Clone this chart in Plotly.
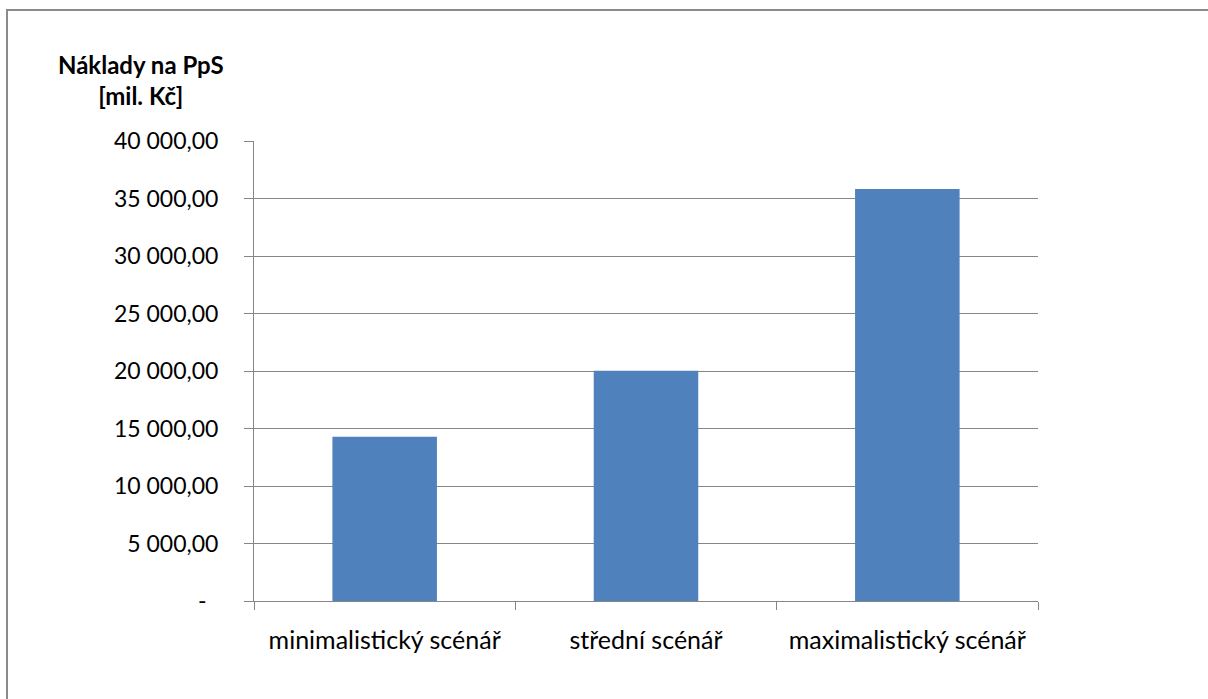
import plotly.graph_objects as go

categories = ["minimalistický scénář", "střední scénář", "maximalistický scénář"]
values = [14290, 20020, 35830]
tick_vals = [0, 5000, 10000, 15000, 20000, 25000, 30000, 35000, 40000]
tick_text = ["-" + "\u00a0" * 2, "5 000,00", "10 000,00", "15 000,00", "20 000,00",
             "25 000,00", "30 000,00", "35 000,00", "40 000,00"]
y_title = "<b>Náklady na PpS<br>[mil. Kč]</b>"

W, H = 1208, 699
L, R, T, B = 254, 1038, 141, 601
pw, ph = R - L, B - T

def px(x):
    return (x - L) / pw

def py(y):
    return (B - y) / ph

FONT = "Lato"
GRID = "#868686"

fig = go.Figure(go.Bar(x=categories, y=values, marker=dict(color="#4F81BD", line=dict(width=0)),
                       hoverinfo="skip"))

fig.update_layout(
    width=W, height=H,
    margin=dict(l=L, r=W - R, t=T, b=H - B),
    paper_bgcolor="white", plot_bgcolor="white",
    bargap=0.6,
    showlegend=False,
    font=dict(family=FONT, size=22, color="black"),
)
fig.update_xaxes(
    type="category", tickson="boundaries", ticks="outside", ticklen=8, tickcolor=GRID,
    showline=True, linecolor=GRID, linewidth=1, showgrid=False,
    tickfont=dict(family=FONT, size=25, color="black"), ticklabelstandoff=17,
)
fig.update_yaxes(
    range=[0, 40000], tickvals=tick_vals, ticktext=tick_text,
    ticks="outside", ticklen=9, tickcolor=GRID,
    showline=True, linecolor=GRID, linewidth=1,
    showgrid=True, gridcolor=GRID, gridwidth=1, zeroline=False,
    tickfont=dict(family=FONT, size=23, color="black"), ticklabelstandoff=21,
)

fig.add_annotation(text=y_title, xref="paper", yref="paper", x=px(141), y=py(80),
                   showarrow=False, align="center", font=dict(family=FONT, size=24, color="black"),
                   xanchor="center", yanchor="middle")

fig.add_shape(type="rect", xref="paper", yref="paper",
              x0=px(7), x1=px(1230), y0=py(10), y1=py(730),
              line=dict(color="#8a8a8a", width=2), fillcolor="rgba(0,0,0,0)", layer="above")

fig.write_html("out.html")
